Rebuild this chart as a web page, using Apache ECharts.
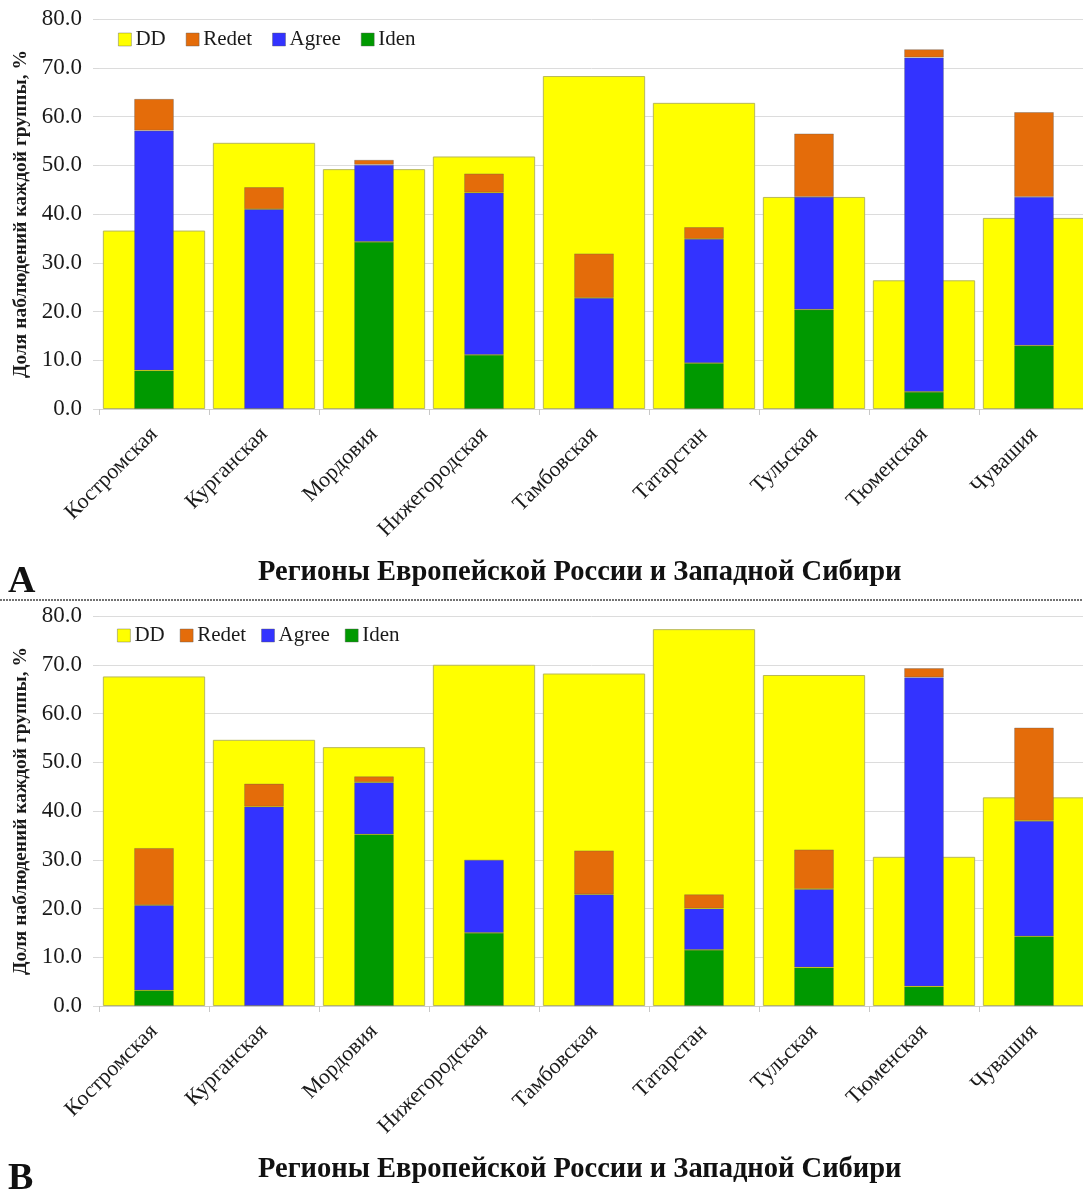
<!DOCTYPE html>
<html>
<head>
<meta charset="utf-8">
<script src="https://cdn.jsdelivr.net/npm/echarts@6/dist/echarts.min.js"></script>
<style>
html,body{margin:0;padding:0;background:#fff;}
#main{width:1083px;height:1193px;}
</style>
</head>
<body>
<div id="main"></div>
<script>
const categories = ['Костромская','Курганская','Мордовия','Нижегородская','Тамбовская','Татарстан','Тульская','Тюменская','Чувашия'];
const seriesNames = ['DD','Redet','Agree','Iden'];

// Panel A
const ddA    = [36.6, 54.6, 49.2, 51.8, 68.3, 62.8, 43.5, 26.4, 39.2];
const idenA  = [7.9, 0, 34.3, 11.1, 0, 9.4, 20.4, 3.5, 13.0];
const agreeA = [49.2, 41.0, 15.8, 33.3, 22.8, 25.5, 23.1, 68.6, 30.5];
const redetA = [6.5, 4.5, 1.0, 3.9, 9.1, 2.4, 13.0, 1.7, 17.4];

// Panel B
const ddB    = [67.6, 54.6, 53.1, 70.0, 68.2, 77.3, 67.9, 30.6, 42.8];
const idenB  = [3.2, 0, 35.2, 15.0, 0, 11.5, 7.9, 4.0, 14.3];
const agreeB = [17.5, 40.9, 10.7, 15.0, 22.9, 8.5, 16.1, 63.4, 23.7];
const redetB = [11.7, 4.7, 1.2, 0, 9.0, 2.9, 8.1, 1.9, 19.1];

const yMin = 0, yMax = 80, yStep = 10;
const yAxisTitle = 'Доля наблюдений каждой группы, %';
const xAxisTitle = 'Регионы Европейской России и Западной Сибири';
const panelLetters = ['A','B'];

const colors = {DD:'#FFFF00', Redet:'#E46C0A', Agree:'#3333FF', Iden:'#009900'};
const serif = '"Liberation Serif", "DejaVu Serif", serif';

const panels = [
  {dd: ddA, iden: idenA, agree: agreeA, redet: redetA, top: 19},
  {dd: ddB, iden: idenB, agree: agreeB, redet: redetB, top: 616}
];
const plotLeft = 99, plotW = 990, plotH = 390;

const nz = arr => arr.map(v => v === 0 ? null : v);

const grid = [], xAxis = [], yAxis = [], series = [], legend = [], graphic = [];
panels.forEach((p, i) => {
  grid.push({left: plotLeft, top: p.top, width: plotW, height: plotH, containLabel: false, outerBoundsMode: 'none'});
  xAxis.push({
    type: 'category', gridIndex: i, data: categories,
    axisLine: {show: true, lineStyle: {color: '#d0d0d0', width: 1}},
    axisTick: {show: true, length: 6, lineStyle: {color: '#c8c8c8'}},
    axisLabel: {rotate: 45, margin: 22, fontFamily: serif, fontSize: 22, color: '#1a1a1a', interval: 0}
  });
  xAxis.push({
    type: 'category', gridIndex: i, data: categories, show: false
  });
  yAxis.push({
    type: 'value', gridIndex: i, min: yMin, max: yMax, interval: yStep,
    name: yAxisTitle, nameLocation: 'middle', nameGap: 67,
    nameTextStyle: {fontFamily: serif, fontSize: 19.5, fontWeight: 'bold', color: '#1a1a1a'},
    axisLine: {show: false},
    axisTick: {show: true, length: 6, lineStyle: {color: '#d9d9d9'}},
    splitLine: {show: true, lineStyle: {color: '#dcdcdc', width: 1}},
    axisLabel: {margin: 17, fontFamily: serif, fontSize: 23, color: '#1a1a1a', formatter: v => v.toFixed(1)}
  });
  series.push({
    name: 'DD', type: 'bar', xAxisIndex: 2*i, yAxisIndex: i, data: p.dd, barWidth: '93%',
    itemStyle: {color: colors.DD, borderColor: '#b8b85a', borderWidth: 1}, z: 1, animation: false
  });
  [['Iden', p.iden], ['Agree', p.agree], ['Redet', p.redet]].forEach(([nm, arr]) => {
    series.push({
      name: nm, type: 'bar', stack: 'st' + i, xAxisIndex: 2*i + 1, yAxisIndex: i, data: nz(arr), barWidth: '36%',
      itemStyle: {color: colors[nm], borderColor: 'rgba(90,90,90,0.45)', borderWidth: 0.8}, z: 3, animation: false
    });
  });
  legend.push({
    data: seriesNames, left: i === 0 ? 113 : 112, top: p.top + (i === 0 ? 5 : 4),
    itemWidth: 13, itemHeight: 13, itemGap: i === 0 ? 20 : 15,
    textStyle: {fontFamily: serif, fontSize: 21, color: '#1a1a1a', padding: [0,0,0,-1]},
    icon: 'rect', selectedMode: false,
    itemStyle: {borderColor: 'rgba(90,90,90,0.5)', borderWidth: 0.8}
  });
  graphic.push({
    type: 'text', left: 258, top: p.top + 539,
    style: {text: xAxisTitle, fontFamily: serif, fontSize: 28.5, fontWeight: 'bold', fill: '#111'}
  });
  graphic.push({
    type: 'text', left: 8, top: p.top + 544,
    style: {text: panelLetters[i], fontFamily: serif, fontSize: 38, fontWeight: 'bold', fill: '#111'}
  });
});
graphic.push({
  type: 'line', shape: {x1: 0, y1: 600, x2: 1083, y2: 600},
  style: {stroke: '#444', lineWidth: 1.5, lineDash: [2, 1]}
});

const chart = echarts.init(document.getElementById('main'), null, {renderer: 'canvas'});
chart.setOption({
  animation: false,
  backgroundColor: '#fff',
  grid, xAxis, yAxis, series, legend, graphic
});
</script>
</body>
</html>
